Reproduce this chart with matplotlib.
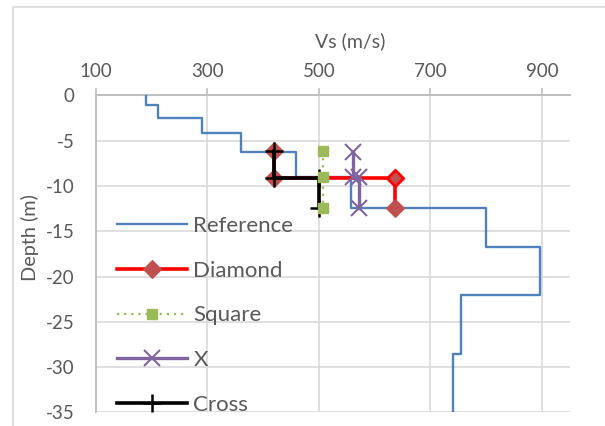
import matplotlib
matplotlib.use("Agg")
import matplotlib.pyplot as plt
from matplotlib.patches import Rectangle

plt.rcParams['font.family'] = ['Lato', 'DejaVu Sans']

# ---- data ----
ref_vs = [190, 212, 290, 360, 460, 557, 800, 897, 755, 740]
ref_bottom = [-1.1, -2.5, -4.2, -6.3, -9.0, -12.4, -16.7, -22.0, -28.5, -35.2]

diamond_vs = [420, 420, 636, 636]
diamond_depth = [-6.2, -9.1, -9.1, -12.4]

square_vs = [507, 507, 507]
square_depth = [-6.2, -9.0, -12.4]

x_vs = [561, 561, 572, 572]
x_depth = [-6.3, -9.0, -9.0, -12.4]

cross_vs = [420, 420, 500, 500]
cross_depth = [-6.2, -9.1, -9.1, -12.4]

xticks = [100, 300, 500, 700, 900]
yticks = [0, -5, -10, -15, -20, -25, -30, -35]

# build step path for the reference profile
ref_x, ref_y = [], []
top = 0.0
for v, b in zip(ref_vs, ref_bottom):
    ref_x += [v, v]
    ref_y += [top, b]
    top = b

W, H = 605, 426
fig = plt.figure(figsize=(W / 100, H / 100), dpi=100)
fig.patch.set_facecolor('white')

# chart frame
fig.patches.append(Rectangle((13 / W, -0.1), 1.2, 1 - 7 / H + 0.1, transform=fig.transFigure,
                             fill=False, edgecolor='#D9D9D9', lw=1.2))

left, right, top_px, bottom_px = 95.5, 570, 95.3, 412.4
ax = fig.add_axes([left / W, 1 - bottom_px / H, (right - left) / W, (bottom_px - top_px) / H])

txt = '#595959'
grid = '#D9D9D9'
axc = '#BFBFBF'

ax.set_xlim(100, 950)
ax.set_ylim(-35, 0)
ax.set_xticks(xticks)
ax.set_yticks(yticks)
ax.set_yticklabels([str(t) for t in yticks])
ax.xaxis.tick_top()
ax.grid(True, color=grid, lw=1.2, zorder=0)
ax.set_axisbelow(True)
for s in ['right', 'bottom']:
    ax.spines[s].set_visible(False)
for s in ['top', 'left']:
    ax.spines[s].set_color(axc)
    ax.spines[s].set_linewidth(1.4)
ax.tick_params(axis='x', which='both', length=5, width=1.2, color=axc, labelsize=13.5,
               labelcolor=txt, pad=6)
ax.tick_params(axis='y', which='both', length=0, labelsize=13.5, labelcolor=txt, pad=15)

brown = '#C0504D'
ax.plot(ref_x, ref_y, color='#4F81BD', lw=1.7, label='Reference', zorder=3)
ax.plot(diamond_vs, diamond_depth, color='#FF0000', lw=2.6, marker='D', ms=9.5,
        mfc=brown, mec=brown, mew=0.8, label='Diamond', zorder=4)
# highlighted diamond point (red outline)
ax.plot(diamond_vs[2:3], diamond_depth[2:3], ls='none', marker='D', ms=8.5,
        mfc=brown, mec='#FF0000', mew=2.0, zorder=4.5)
ax.plot(x_vs, x_depth, color='#8064A2', lw=2.4, marker='x', ms=11, mew=1.5,
        label='X', zorder=6)
ax.plot(cross_vs, cross_depth, color='black', lw=2.6, marker='+', ms=13, mew=1.8,
        label='Cross', zorder=7)
ax.plot(square_vs, square_depth, color='#9BBB59', lw=1.6, ls=(0, (1, 2.2)), marker='s', ms=6.5,
        mfc='#9BBB59', mec='#9BBB59', label='Square', zorder=8)

fig.text(350 / W, 1 - 41 / H, 'Vs (m/s)', ha='center', va='center', fontsize=14, color=txt)
fig.text(30 / W, 1 - 238 / H, 'Depth (m)', ha='center', va='center', rotation=90,
         fontsize=14.3, color=txt)

handles, labels = ax.get_legend_handles_labels()
order = ['Reference', 'Diamond', 'Square', 'X', 'Cross']
hd = dict(zip(labels, handles))
leg = ax.legend([hd[k] for k in order], order, loc='upper left',
                bbox_to_anchor=(116.7 / W, 1 - 216 / H),
                bbox_transform=fig.transFigure, frameon=False, fontsize=16,
                labelcolor=txt, handlelength=3.15, handletextpad=0.3, labelspacing=1.11,
                borderpad=0, borderaxespad=0)

fig.savefig('out.png', dpi=100, facecolor='white')
